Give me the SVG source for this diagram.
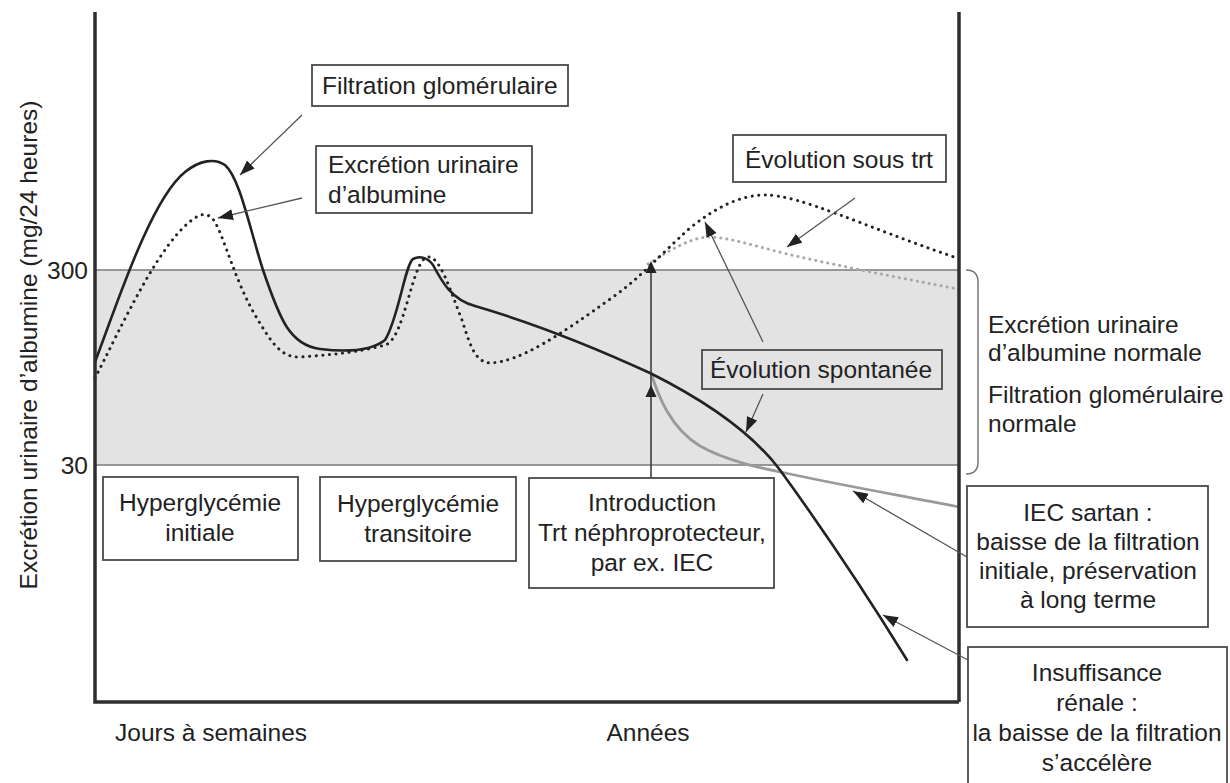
<svg xmlns="http://www.w3.org/2000/svg" width="1230" height="783" viewBox="0 0 1230 783">
<style>
text{font-family:"Liberation Sans",Arial,Helvetica,sans-serif;font-size:24.5px;fill:#222}
.c{text-anchor:middle}
.box{fill:#fff;stroke:#4a4a4a;stroke-width:1.8}
.axis{fill:none;stroke:#2e2e2e;stroke-width:3.5}
.lead{fill:none;stroke:#555;stroke-width:1.3}
.solid{fill:none;stroke:#222;stroke-width:2.6;stroke-linecap:round}
.gsolid{fill:none;stroke:#9a9a9a;stroke-width:2.8;stroke-linecap:round}
.dot{fill:none;stroke:#222;stroke-width:3;stroke-dasharray:0.1 6.5;stroke-linecap:round}
.gdot{fill:none;stroke:#a8a8a8;stroke-width:3;stroke-dasharray:0.1 6;stroke-linecap:round}
</style>
<defs>
<marker id="ah" markerUnits="userSpaceOnUse" markerWidth="16" markerHeight="12" refX="15" refY="5.5" orient="auto">
<path d="M0,0 L15,5.5 L0,11 z" fill="#222"/>
</marker>
</defs>
<rect width="1230" height="783" fill="#fff"/>

<g id="band">
<rect x="95" y="270" width="864" height="195" fill="#e3e3e3"/>
<line x1="95" y1="270" x2="959" y2="270" stroke="#7a7a7a" stroke-width="1.3"/>
<line x1="95" y1="465" x2="959" y2="465" stroke="#7a7a7a" stroke-width="1.3"/>
</g>

<g id="curves">
<path class="gdot" d="M648,264 C670,250 690,238 708,237 C730,237 760,248 800,257 C850,268 900,278 958,289"/>
<path class="dot" d="M95,378 C120,330 160,240 195,218 C203,212 210,214 215,222 C225,240 235,280 255,315 C270,340 280,358 300,357 C330,355 360,352 385,345 C405,340 412,258 428,257 C440,256 450,290 462,320 C470,345 475,362 490,363 C520,362 560,335 613,297 C640,278 660,255 690,228 C715,208 740,195 765,195 C800,195 860,225 957,258"/>
<path class="gsolid" d="M651,373 C658,395 670,428 700,446 C725,460 755,467 790,474 C850,487 910,497 959,507"/>
<path class="solid" d="M95,362 C115,310 150,200 185,172 C200,160 215,158 225,165 C240,178 250,230 263,270 C280,320 290,345 320,349 C345,352 370,352 385,340 C398,320 405,265 413,259 C420,255 428,258 433,265 C442,282 452,300 475,306 C540,325 600,350 650,373 C700,398 750,430 780,470 C820,525 870,600 907,660"/>
</g>

<g id="axes">
<path class="axis" d="M95,12 L95,702 L959,702"/>
<line class="axis" x1="959" y1="12" x2="959" y2="702"/>
<text x="88" y="279" text-anchor="end">300</text>
<text x="88" y="474" text-anchor="end">30</text>
<text class="c" transform="translate(37,345) rotate(-90)">Excrétion urinaire d’albumine (mg/24 heures)</text>
<text x="115" y="741">Jours à semaines</text>
<text class="c" x="648" y="741">Années</text>
</g>

<g id="bracket">
<path d="M966,270 Q978,270 978,282 L978,462 Q978,474 966,474" fill="none" stroke="#777" stroke-width="1.5"/>
<text x="988" y="333">Excrétion urinaire</text>
<text x="988" y="361">d’albumine normale</text>
<text x="988" y="403">Filtration glomérulaire</text>
<text x="988" y="432">normale</text>
</g>

<g id="connectors">
<line class="lead" x1="302" y1="115" x2="240" y2="175" marker-end="url(#ah)"/>
<line class="lead" x1="302" y1="198" x2="218" y2="218" marker-end="url(#ah)"/>
<line class="lead" x1="855" y1="198" x2="787" y2="247" marker-end="url(#ah)"/>
<line class="lead" x1="763" y1="342" x2="705" y2="222" marker-end="url(#ah)"/>
<line class="lead" x1="763" y1="394" x2="746" y2="432" marker-end="url(#ah)"/>
<line class="lead" x1="967" y1="557" x2="853" y2="491" marker-end="url(#ah)"/>
<line class="lead" x1="968" y1="660" x2="883" y2="615" marker-end="url(#ah)"/>
<line x1="651" y1="478" x2="651" y2="266" stroke="#333" stroke-width="1.5"/>
<path d="M651,261 L656.5,273 L645.5,273 z" fill="#222"/>
<path d="M651,385 L656.5,397 L645.5,397 z" fill="#222"/>
</g>

<g id="n-filtration">
<rect class="box" x="312" y="65" width="256" height="41"/>
<text x="322" y="94">Filtration glomérulaire</text>
</g>
<g id="n-excretion">
<rect class="box" x="316" y="146" width="216" height="67"/>
<text x="328" y="173">Excrétion urinaire</text>
<text x="328" y="203">d’albumine</text>
</g>
<g id="n-sous-trt">
<rect class="box" x="733" y="135" width="213" height="47"/>
<text x="745" y="168">Évolution sous trt</text>
</g>
<g id="n-spontanee">
<rect class="box" x="702" y="350" width="240" height="39" style="fill:none"/>
<text x="710" y="378">Évolution spontanée</text>
</g>
<g id="n-hyper-initiale">
<rect class="box" x="103" y="477" width="195" height="83"/>
<text class="c" x="200" y="511">Hyperglycémie</text>
<text class="c" x="200" y="541">initiale</text>
</g>
<g id="n-hyper-transitoire">
<rect class="box" x="320" y="477" width="196" height="84"/>
<text class="c" x="418" y="512">Hyperglycémie</text>
<text class="c" x="418" y="542">transitoire</text>
</g>
<g id="n-introduction">
<rect class="box" x="529" y="478" width="245" height="110"/>
<text class="c" x="652" y="511">Introduction</text>
<text class="c" x="652" y="541">Trt néphroprotecteur,</text>
<text class="c" x="652" y="571">par ex. IEC</text>
</g>
<g id="n-iec">
<rect class="box" x="967" y="486" width="241" height="141"/>
<text class="c" x="1088" y="521">IEC sartan :</text>
<text class="c" x="1088" y="550">baisse de la filtration</text>
<text class="c" x="1088" y="579">initiale, préservation</text>
<text class="c" x="1088" y="608">à long terme</text>
</g>
<g id="n-insuffisance">
<rect class="box" x="968" y="647" width="259" height="150"/>
<text class="c" x="1097" y="681">Insuffisance</text>
<text class="c" x="1097" y="711">rénale :</text>
<text class="c" x="1097" y="741">la baisse de la filtration</text>
<text class="c" x="1097" y="771">s’accélère</text>
</g>
</svg>
